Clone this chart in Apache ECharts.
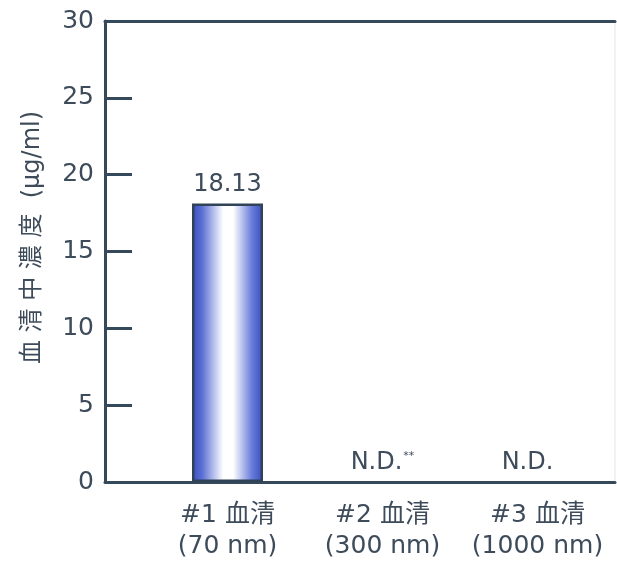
<!DOCTYPE html>
<html>
<head>
<meta charset="utf-8">
<script src="https://cdn.jsdelivr.net/npm/echarts@6/dist/echarts.min.js"></script>
<style>
  html, body { margin: 0; padding: 0; background: #fff; }
  #chart { width: 617px; height: 567px; }
</style>
</head>
<body>
<div id="chart"></div>
<script>
// Serum concentration per sample
const categories = ['#1 血清\n(70 nm)', '#2 血清\n(300 nm)', '#3 血清\n(1000 nm)'];
const concentrations = [18.13, 0, 0];
const barLabels = ['18.13', 'N.D.**', 'N.D.'];
const yTicks = [0, 5, 10, 15, 20, 25, 30];

const ink = '#3d4b5a';
const axisInk = '#36495b';
const font = '"DejaVu Sans", "Noto Sans CJK JP", sans-serif';

const chart = echarts.init(document.getElementById('chart'));

chart.setOption({
  animation: false,
  backgroundColor: '#ffffff',
  grid: [
    // frame grid: value axis with the outer lines
    { left: 105, right: 2, top: 21, bottom: 85, show: true, borderWidth: 1, borderColor: '#e3e8ee' },
    // bar grid: category bands
    { left: 150, right: 2, top: 21, bottom: 85 }
  ],
  xAxis: [
    { gridIndex: 0, type: 'value', min: 0, max: 1, position: 'bottom',
      axisLine: { show: true, lineStyle: { color: axisInk, width: 3 } },
      axisTick: { show: false }, axisLabel: { show: false }, splitLine: { show: false } },
    { gridIndex: 0, type: 'value', min: 0, max: 1, position: 'top',
      axisLine: { show: true, lineStyle: { color: axisInk, width: 3 } },
      axisTick: { show: false }, axisLabel: { show: false }, splitLine: { show: false } },
    { gridIndex: 1, type: 'category', data: categories,
      axisLine: { show: false }, axisTick: { show: false },
      axisLabel: { color: ink, fontFamily: font, fontSize: 25, lineHeight: 31, margin: 18, interval: 0 } }
  ],
  yAxis: [
    { gridIndex: 0, type: 'value', min: yTicks[0], max: yTicks[yTicks.length - 1], interval: 5,
      name: '血 清 中 濃 度  (μg/ml)', nameLocation: 'middle', nameGap: 60,
      nameTextStyle: { color: ink, fontFamily: font, fontSize: 24, padding: [0, 0, 0, 28] },
      axisLine: { show: true, lineStyle: { color: axisInk, width: 3 } },
      axisTick: { show: true, inside: true, length: 27, lineStyle: { color: axisInk, width: 3 } },
      axisLabel: { color: ink, fontFamily: font, fontSize: 25, margin: 11 },
      splitLine: { show: false } },
    { gridIndex: 1, type: 'value', min: yTicks[0], max: yTicks[yTicks.length - 1], show: false }
  ],
  series: [{
    type: 'bar',
    xAxisIndex: 2,
    yAxisIndex: 1,
    data: concentrations.map(function (v, i) {
      const item = { value: v };
      if (v === 0) item.itemStyle = { borderWidth: 0 };
      if (i === 2) item.label = { offset: [-10, 0] };
      return item;
    }),
    barWidth: 71,
    itemStyle: {
      color: new echarts.graphic.LinearGradient(0, 0, 1, 0, [
        { offset: 0, color: '#374dbf' },
        { offset: 0.14, color: '#5a6fd4' },
        { offset: 0.44, color: '#ffffff' },
        { offset: 0.58, color: '#ffffff' },
        { offset: 0.84, color: '#6a7dda' },
        { offset: 1, color: '#374dbf' }
      ]),
      borderColor: '#2f4256',
      borderWidth: 2.5
    },
    label: {
      show: true,
      position: 'top',
      distance: 7,
      color: ink,
      fontFamily: font,
      fontSize: 24,
      formatter: function (p) {
        const t = barLabels[p.dataIndex];
        if (t.endsWith('**')) return '{t|' + t.slice(0, -2) + '}{s|**}';
        return '{t|' + t + '}';
      },
      rich: {
        t: { color: ink, fontFamily: font, fontSize: 24 },
        s: { color: ink, fontFamily: font, fontSize: 11, verticalAlign: 'top', padding: [0, 0, 12, 1] }
      }
    }
  }]
});
</script>
</body>
</html>
